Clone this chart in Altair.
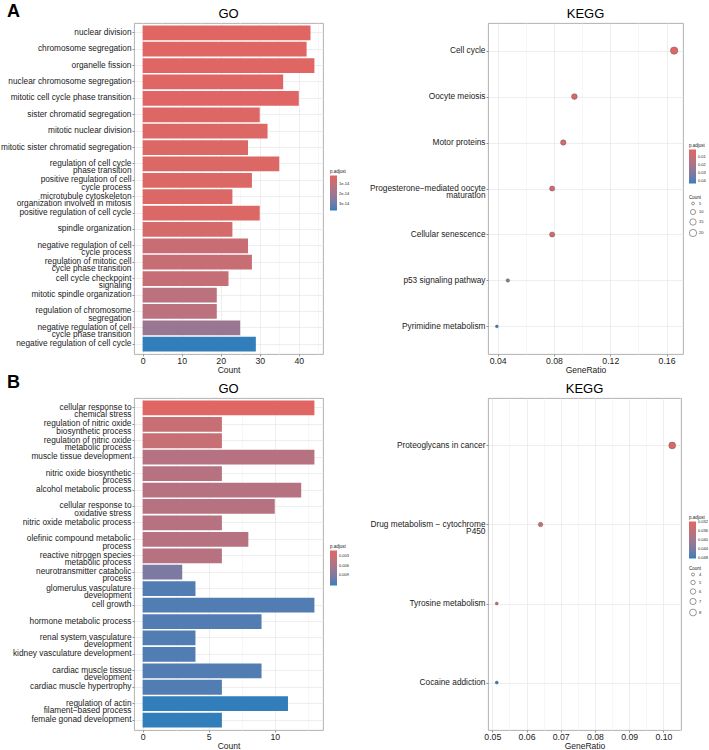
import altair as alt
import pandas as pd

FONT = "Liberation Sans"
LOW_COLOR = "#e06663"
HIGH_COLOR = "#327eba"

# ---------------- A · GO enrichment ----------------
go_a_terms = [
    "nuclear division",
    "chromosome segregation",
    "organelle fission",
    "nuclear chromosome segregation",
    "mitotic cell cycle phase transition",
    "sister chromatid segregation",
    "mitotic nuclear division",
    "mitotic sister chromatid segregation",
    "regulation of cell cycle\nphase transition",
    "positive regulation of cell\ncycle process",
    "microtubule cytoskeleton\norganization involved in mitosis",
    "positive regulation of cell cycle",
    "spindle organization",
    "negative regulation of cell\ncycle process",
    "regulation of mitotic cell\ncycle phase transition",
    "cell cycle checkpoint\nsignaling",
    "mitotic spindle organization",
    "regulation of chromosome\nsegregation",
    "negative regulation of cell\ncycle phase transition",
    "negative regulation of cell cycle",
]
go_a_count = [43, 42, 44, 36, 40, 30, 32, 27, 35, 28, 23, 30, 23, 27, 28, 22, 19, 19, 25, 29]
go_a_padj = [1.7e-15, 1.8e-15, 1.8e-15, 2.0e-15, 2.0e-15, 2.5e-15, 2.5e-15, 3.0e-15,
             3.0e-15, 3.0e-15, 3.0e-15, 3.0e-15, 5.0e-15, 8.5e-15, 9.0e-15, 9.5e-15,
             1.25e-14, 1.25e-14, 2.1e-14, 3.7e-14]

# ---------------- A · KEGG enrichment ----------------
kegg_a_terms = [
    "Cell cycle",
    "Oocyte meiosis",
    "Motor proteins",
    "Progesterone\u2212mediated oocyte\nmaturation",
    "Cellular senescence",
    "p53 signaling pathway",
    "Pyrimidine metabolism",
]
kegg_a_ratio = [0.1654, 0.0945, 0.0866, 0.0787, 0.0787, 0.0472, 0.0394]
kegg_a_count = [21, 12, 11, 10, 10, 6, 5]
kegg_a_padj = [2e-9, 0.0030, 0.0042, 0.0045, 0.0045, 0.024, 0.043]

# ---------------- B · GO enrichment ----------------
go_b_terms = [
    "cellular response to\nchemical stress",
    "regulation of nitric oxide\nbiosynthetic process",
    "regulation of nitric oxide\nmetabolic process",
    "muscle tissue development",
    "nitric oxide biosynthetic\nprocess",
    "alcohol metabolic process",
    "cellular response to\noxidative stress",
    "nitric oxide metabolic process",
    "olefinic compound metabolic\nprocess",
    "reactive nitrogen species\nmetabolic process",
    "neurotransmitter catabolic\nprocess",
    "glomerulus vasculature\ndevelopment",
    "cell growth",
    "hormone metabolic process",
    "renal system vasculature\ndevelopment",
    "kidney vasculature development",
    "cardiac muscle tissue\ndevelopment",
    "cardiac muscle hypertrophy",
    "regulation of actin\nfilament\u2212based process",
    "female gonad development",
]
go_b_count = [13, 6, 6, 13, 6, 12, 10, 6, 8, 6, 3, 4, 13, 9, 4, 4, 9, 6, 11, 6]
go_b_padj = [0.0011, 0.0034, 0.0034, 0.0050, 0.0050, 0.0050, 0.0050, 0.0050, 0.0050, 0.0050,
             0.0093, 0.0114, 0.0114, 0.0114, 0.0114, 0.0114, 0.0114, 0.0114, 0.0124, 0.0124]

# ---------------- B · KEGG enrichment ----------------
kegg_b_terms = [
    "Proteoglycans in cancer",
    "Drug metabolism \u2212 cytochrome\nP450",
    "Tyrosine metabolism",
    "Cocaine addiction",
]
kegg_b_ratio = [0.1026, 0.0641, 0.0513, 0.0513]
kegg_b_count = [8, 5, 4, 4]
kegg_b_padj = [0.0318, 0.0330, 0.0330, 0.0482]


def expanded(values, include_zero=False):
    lo, hi = min(values), max(values)
    if include_zero:
        lo = min(lo, 0)
    pad = 0.05 * (hi - lo)
    return [lo - pad, hi + pad]


def x_axis(values, major_test, fmt, title):
    return alt.Axis(
        values=values,
        format=fmt,
        title=title,
        labelExpr=f"({major_test}) ? datum.label : ''",
        tickColor={"condition": {"test": major_test, "value": "#4d4d4d"}, "value": "transparent"},
        gridColor={"condition": {"test": major_test, "value": "#e6e6e6"}, "value": "#f3f3f3"},
        gridWidth=0.7,
        tickSize=2,
        tickWidth=0.6,
        labelPadding=0.5,
        labelFontSize=8.7,
        titleFontSize=8.5,
        titlePadding=0.5,
        domain=False,
    )


def y_axis():
    return alt.Axis(
        title=None,
        labelExpr="split(datum.label, '\\n')",
        labelFontSize=8.3,
        labelLineHeight=7.2,
        labelLimit=400,
        tickSize=2,
        tickWidth=0.6,
        tickColor="#4d4d4d",
        labelPadding=1,
        bandPosition=0.5,
        grid=True,
        gridColor="#e6e6e6",
        gridWidth=0.7,
        domain=False,
    )


def color_scale(values):
    # descending domain puts the smallest p.adjust (red) at the top of the colour bar
    return alt.Scale(domain=[max(values), min(values)], range=[HIGH_COLOR, LOW_COLOR],
                     interpolate="lab", nice=False, zero=False)


def label(text, x, y, size, bold=False, align="center"):
    """Free text placed in pixels relative to a panel's plotting area."""
    return alt.Chart(pd.DataFrame({"t": [text]})).mark_text(
        align=align, baseline="alphabetic", fontSize=size,
        fontWeight="bold" if bold else "normal", font=FONT, color="black"
    ).encode(text="t:N", x=alt.value(x), y=alt.value(y))


def go_panel(terms, counts, padj, tag, tag_y, width, height, ticks, major_test,
             legend_values, legend_fmt, legend_y, grad_len):
    df = pd.DataFrame({"term": terms, "Count": counts, "padj": padj})
    bars = alt.Chart(df).mark_bar().encode(
        y=alt.Y("term:N", sort=terms, axis=y_axis(),
                scale=alt.Scale(paddingInner=0.1, paddingOuter=0.15)),
        x=alt.X("Count:Q", axis=x_axis(ticks, major_test, "d", "Count"),
                scale=alt.Scale(domain=expanded(counts, include_zero=True), nice=False, zero=False)),
        color=alt.Color("padj:Q", title="p.adjust", scale=color_scale(padj),
                        legend=alt.Legend(orient="none", legendX=196, legendY=legend_y,
                                          values=legend_values, format=legend_fmt,
                                          gradientLength=grad_len, direction="vertical")),
    )
    return alt.layer(
        bars,
        label("GO", width / 2, -4.7, 13),
        label(tag, -127, tag_y, 18, bold=True, align="left"),
    ).properties(width=width, height=height)


def kegg_panel(terms, ratio, counts, padj, width, height, ticks, major_test, fmt,
               legend_values, legend_fmt, legend_x, legend_y, grad_len,
               size_range, size_values, size_y):
    df = pd.DataFrame({"term": terms, "GeneRatio": ratio, "Count": counts, "padj": padj})
    dots = alt.Chart(df).mark_circle(opacity=1, stroke="#4d4d4d", strokeWidth=0.4).encode(
        y=alt.Y("term:N", sort=terms, axis=y_axis(), scale=alt.Scale(padding=0.6)),
        x=alt.X("GeneRatio:Q", axis=x_axis(ticks, major_test, fmt, "GeneRatio"),
                scale=alt.Scale(domain=expanded(ratio), nice=False, zero=False)),
        color=alt.Color("padj:Q", title="p.adjust", scale=color_scale(padj),
                        legend=alt.Legend(orient="none", legendX=legend_x, legendY=legend_y,
                                          values=legend_values, format=legend_fmt,
                                          gradientLength=grad_len, direction="vertical")),
        size=alt.Size("Count:Q", title="Count",
                      scale=alt.Scale(type="sqrt", domain=[min(counts), max(counts)],
                                      range=size_range, zero=False),
                      legend=alt.Legend(orient="none", legendX=legend_x, legendY=size_y,
                                        values=size_values, symbolFillColor="white",
                                        symbolStrokeColor="#333333", symbolStrokeWidth=0.5,
                                        symbolType="circle", rowPadding=1.5)),
    )
    return alt.layer(dots, label("KEGG", width / 2, -4.7, 13)).properties(
        width=width, height=height)


go_a = go_panel(go_a_terms, go_a_count, go_a_padj, "A", -6, 189, 331,
                [i * 5 for i in range(10)], "datum.value % 10 == 0",
                [1e-14, 2e-14, 3e-14], ".0e", 146, 35)
kegg_a = kegg_panel(kegg_a_terms, kegg_a_ratio, kegg_a_count, kegg_a_padj, 195, 331,
                    [round(0.04 + 0.02 * i, 2) for i in range(7)],
                    "round(datum.value * 100) % 4 == 0", ".2f",
                    [0.01, 0.02, 0.03, 0.04], ".2f", 201, 120, 34,
                    [8, 55], [5, 10, 15, 20], 172)
go_b = go_panel(go_b_terms, go_b_count, go_b_padj, "B", -10, 189, 332,
                [i * 2.5 for i in range(6)], "datum.value % 5 == 0",
                [0.003, 0.006, 0.009], ".3f", 146, 35)
kegg_b = kegg_panel(kegg_b_terms, kegg_b_ratio, kegg_b_count, kegg_b_padj, 193, 332,
                    [round(0.05 + 0.005 * i, 3) for i in range(12)],
                    "round(datum.value * 1000) % 10 == 0", ".2f",
                    [0.032, 0.036, 0.040, 0.044, 0.048], ".3f", 201, 117, 37,
                    [9, 47], [4, 5, 6, 7, 8], 168)

chart = alt.concat(
    go_a, kegg_a, go_b, kegg_b,
    columns=2, bounds="flush", spacing={"row": 44, "column": 165},
).resolve_scale(
    color="independent", size="independent"
).properties(
    autosize=alt.AutoSizeParams(type="none"),
    padding={"left": 134, "top": 23, "right": 575, "bottom": 727},
).configure(
    font=FONT, background="white"
).configure_view(
    stroke="#a8a8a8", strokeWidth=0.9
).configure_axis(
    labelColor="#1a1a1a", titleColor="#1a1a1a", titleFontWeight="normal", labelFont=FONT, titleFont=FONT
).configure_legend(
    titleFontSize=4.5, labelFontSize=4, titleFontWeight="normal", titleColor="#1a1a1a",
    labelColor="#1a1a1a", gradientThickness=7, gradientStrokeWidth=0, titlePadding=2,
    labelOffset=2, titleFont=FONT, labelFont=FONT
)

chart.save("out.html", embed_options={"renderer": "svg", "actions": False})
